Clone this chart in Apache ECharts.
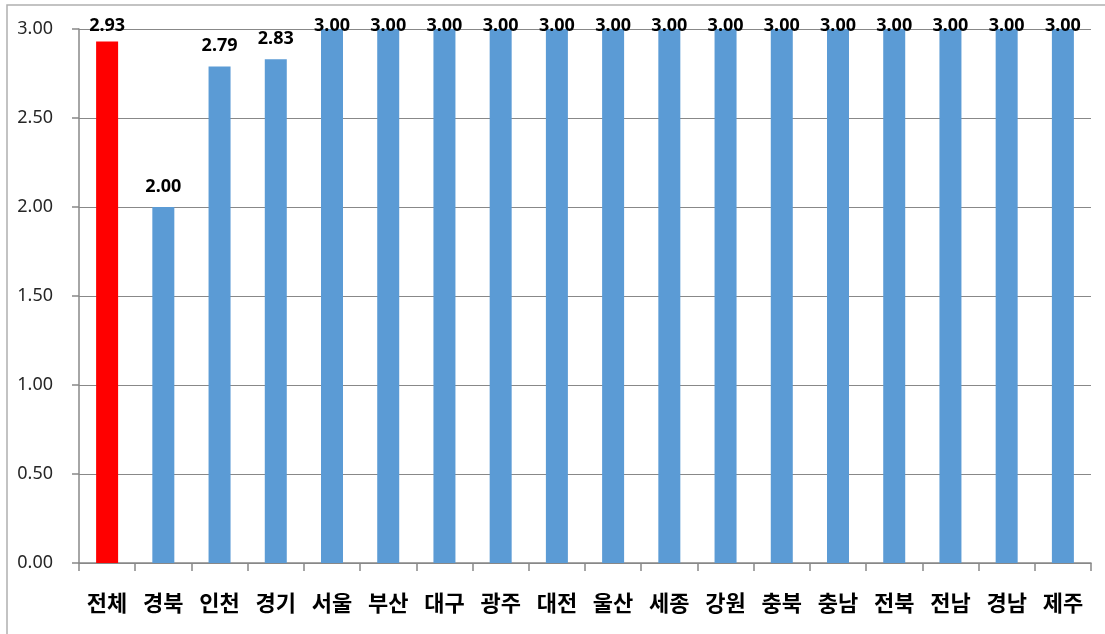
<!DOCTYPE html>
<html><head><meta charset="utf-8">
<script src="https://cdn.jsdelivr.net/npm/echarts@6/dist/echarts.min.js"></script>
<style>html,body{margin:0;padding:0;background:#fff}#c{width:1105px;height:634px}</style>
</head><body><div id="c"></div>
<script>
const categories = ['전체','경북','인천','경기','서울','부산','대구','광주','대전','울산','세종','강원','충북','충남','전북','전남','경남','제주'];
const values = [2.93,2.00,2.79,2.83,3.00,3.00,3.00,3.00,3.00,3.00,3.00,3.00,3.00,3.00,3.00,3.00,3.00,3.00];
const yTicks = ['0.00','0.50','1.00','1.50','2.00','2.50','3.00'];
const highlightIndex = 0;

const chart = echarts.init(document.getElementById('c'), null, {renderer:'canvas'});
function buildData(distances){
  return values.map((v,i)=>({value:v,
    itemStyle:{color:i===highlightIndex?'#FF0000':'#5B9BD5'},
    label:{distance:distances ? distances[i] : 11.5}}));
}
chart.setOption({
  animation:false,
  backgroundColor:'#fff',
  graphic:[{type:'rect',shape:{x:7,y:5,width:1110,height:640},style:{fill:'none',stroke:'#b0b0b0',lineWidth:1.5},silent:true}],
  grid:{left:79,right:14,top:29,bottom:71},
  xAxis:{type:'category',data:categories,
    axisLine:{lineStyle:{color:'#888',width:1.5}},
    axisTick:{show:true,length:8,lineStyle:{color:'#888',width:1.5}},
    axisLabel:{color:'#000',fontSize:22,fontWeight:'bold',fontFamily:'"Noto Sans CJK KR"',margin:29}},
  yAxis:{type:'value',min:0,max:3,interval:0.5,
    axisLine:{show:true,lineStyle:{color:'#888',width:1.5}},
    axisTick:{show:true,length:7,lineStyle:{color:'#888',width:1.5}},
    splitLine:{lineStyle:{color:'#888',width:1.2}},
    axisLabel:{color:'#262626',fontSize:18,fontFamily:'"Noto Sans", sans-serif',margin:26,
      formatter:(v)=>yTicks[Math.round(v/0.5)]}},
  series:[{type:'bar',barWidth:22,
    data:buildData(null),
    label:{show:true,position:'top',color:'#000',fontSize:18,fontWeight:'bold',fontFamily:'"Noto Sans", sans-serif',formatter:p=>p.value.toFixed(2)}}]
});
// Labels are kept inside the chart area (like the original): cap label top near the frame.
const distances = values.map((v,i)=>{
  const top = chart.convertToPixel({seriesIndex:0},[i,v])[1];
  return Math.min(11.5, top - 17 - 13 - 4.5);
});
chart.setOption({series:[{data:buildData(distances)}]});
</script></body></html>
